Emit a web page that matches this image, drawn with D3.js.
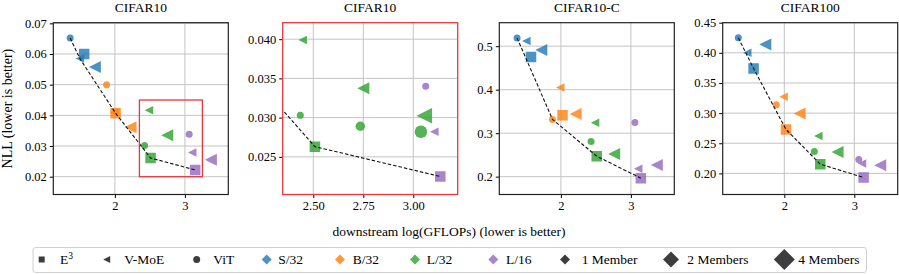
<!DOCTYPE html>
<html>
<head>
<meta charset="utf-8">
<script src="https://cdn.jsdelivr.net/npm/d3@7"></script>
<style>
  body { margin: 0; background: #fff; }
  svg { display: block; font-family: "Liberation Serif", "DejaVu Serif", serif; }
  svg text { font-family: "Liberation Serif", "DejaVu Serif", serif; }
</style>
</head>
<body>
<div id="chart"></div>
<script>
// model sizes and their colours (tab10)
const modelSizes = ["S/32", "B/32", "L/32", "L/16"];
const sizeColors = ["#1f77b4", "#ff7f0e", "#2ca02c", "#9467bd"];
const methods = ["E3", "V-MoE", "ViT"];
const memberCounts = [1, 2, 4];

// points: [model size, method, members, log(GFLOPs), NLL]
const cifar10Points = [
  ["S/32", "ViT", 1, 1.361, 0.0652],
  ["S/32", "E3", 2, 1.561, 0.0600],
  ["S/32", "V-MoE", 1, 1.500, 0.0585],
  ["S/32", "V-MoE", 2, 1.714, 0.0558],
  ["B/32", "ViT", 1, 1.881, 0.0500],
  ["B/32", "V-MoE", 1, 1.990, 0.0409],
  ["B/32", "E3", 2, 2.010, 0.0407],
  ["B/32", "V-MoE", 2, 2.224, 0.0361],
  ["L/32", "ViT", 1, 2.424, 0.0302],
  ["L/32", "V-MoE", 1, 2.486, 0.0417],
  ["L/32", "V-MoE", 2, 2.747, 0.0335],
  ["L/32", "E3", 2, 2.510, 0.0261],
  ["L/16", "ViT", 1, 3.061, 0.0338],
  ["L/16", "V-MoE", 1, 3.104, 0.0279],
  ["L/16", "V-MoE", 2, 3.371, 0.0255],
  ["L/16", "E3", 2, 3.147, 0.0222]
];
const cifar10ZoomPoints = [
  ["B/32", "E3", 2, 2.010, 0.0407],
  ["L/32", "ViT", 1, 2.435, 0.0303],
  ["L/32", "ViT", 2, 2.735, 0.0289],
  ["L/32", "ViT", 4, 3.038, 0.0282],
  ["L/32", "V-MoE", 1, 2.447, 0.0399],
  ["L/32", "V-MoE", 2, 2.750, 0.03375],
  ["L/32", "V-MoE", 4, 3.055, 0.03025],
  ["L/32", "E3", 2, 2.508, 0.0263],
  ["L/16", "ViT", 1, 3.062, 0.0340],
  ["L/16", "V-MoE", 1, 3.105, 0.0282],
  ["L/16", "E3", 2, 3.135, 0.0225]
];
const cifar10cPoints = [
  ["S/32", "ViT", 1, 1.374, 0.519],
  ["S/32", "V-MoE", 1, 1.506, 0.512],
  ["S/32", "V-MoE", 2, 1.720, 0.491],
  ["S/32", "E3", 2, 1.573, 0.4754],
  ["B/32", "ViT", 1, 1.880, 0.3315],
  ["B/32", "V-MoE", 1, 1.990, 0.405],
  ["B/32", "V-MoE", 2, 2.210, 0.344],
  ["B/32", "E3", 2, 2.023, 0.341],
  ["L/32", "ViT", 1, 2.431, 0.281],
  ["L/32", "V-MoE", 1, 2.488, 0.324],
  ["L/32", "V-MoE", 2, 2.760, 0.252],
  ["L/32", "E3", 2, 2.512, 0.247],
  ["L/16", "ViT", 1, 3.057, 0.3246],
  ["L/16", "V-MoE", 1, 3.104, 0.218],
  ["L/16", "V-MoE", 2, 3.370, 0.227],
  ["L/16", "E3", 2, 3.142, 0.1966]
];
const cifar100Points = [
  ["S/32", "ViT", 1, 1.343, 0.425],
  ["S/32", "V-MoE", 1, 1.471, 0.400],
  ["S/32", "V-MoE", 2, 1.729, 0.414],
  ["S/32", "E3", 2, 1.561, 0.374],
  ["B/32", "ViT", 1, 1.886, 0.314],
  ["B/32", "V-MoE", 1, 1.990, 0.327],
  ["B/32", "V-MoE", 2, 2.219, 0.2995],
  ["B/32", "E3", 2, 2.024, 0.273],
  ["L/32", "ViT", 1, 2.429, 0.2364],
  ["L/32", "V-MoE", 1, 2.486, 0.262],
  ["L/32", "V-MoE", 2, 2.761, 0.2357],
  ["L/32", "E3", 2, 2.514, 0.2153],
  ["L/16", "ViT", 1, 3.064, 0.223],
  ["L/16", "V-MoE", 1, 3.110, 0.2164],
  ["L/16", "V-MoE", 2, 3.371, 0.2137],
  ["L/16", "E3", 2, 3.133, 0.1932]
];

// dashed frontier lines: [log(GFLOPs), NLL]
const cifar10Front = [[1.361, 0.0652], [1.500, 0.0585], [2.010, 0.0407], [2.510, 0.0261], [3.147, 0.0222]];
const cifar10ZoomFront = [[2.010, 0.0407], [2.508, 0.0263], [3.135, 0.0225]];
const cifar10cFront = [[1.374, 0.519], [1.880, 0.3315], [2.512, 0.247], [3.142, 0.1966]];
const cifar100Front = [[1.343, 0.425], [1.561, 0.374], [2.024, 0.273], [2.514, 0.2153], [3.133, 0.1932]];

// ticks
const xTicksMain = [2, 3];
const xTicksZoom = [2.5, 2.75, 3.0];
const yTicksCifar10 = [0.02, 0.03, 0.04, 0.05, 0.06, 0.07];
const yTicksZoom = [0.025, 0.030, 0.035, 0.040];
const yTicksCifar10c = [0.2, 0.3, 0.4, 0.5];
const yTicksCifar100 = [0.20, 0.25, 0.30, 0.35, 0.40, 0.45];

// zoom region shown in the first panel: [x0, x1, y0, y1]
const zoomBox = [2.35, 3.25, 0.020, 0.045];

const panels = [
  { title: "CIFAR10", points: cifar10Points, front: cifar10Front, xDomain: [1.12, 3.62], yDomain: [0.0142, 0.0702],
    xTicks: xTicksMain, yTicks: yTicksCifar10, xFmt: d3.format("d"), yFmt: d3.format(".2f"), left: 53.3, box: true },
  { title: "CIFAR10", points: cifar10ZoomPoints, front: cifar10ZoomFront, xDomain: [2.347, 3.222], yDomain: [0.0202, 0.0421],
    xTicks: xTicksZoom, yTicks: yTicksZoom, xFmt: d3.format(".2f"), yFmt: d3.format(".3f"), left: 282.7, red: true },
  { title: "CIFAR10-C", points: cifar10cPoints, front: cifar10cFront, xDomain: [1.12, 3.62], yDomain: [0.159, 0.554],
    xTicks: xTicksMain, yTicks: yTicksCifar10c, xFmt: d3.format("d"), yFmt: d3.format(".1f"), left: 499.3 },
  { title: "CIFAR100", points: cifar100Points, front: cifar100Front, xDomain: [1.12, 3.62], yDomain: [0.165, 0.45],
    xTicks: xTicksMain, yTicks: yTicksCifar100, xFmt: d3.format("d"), yFmt: d3.format(".2f"), left: 722.7 }
];

const W = 899, H = 274;
const plotW = 175, plotTop = 22.7, plotBottom = 194.5;
const color = d3.scaleOrdinal().domain(modelSizes).range(sizeColors);

// marker widths in px, by method and ensemble size
const markerSize = {
  "ViT": { 1: 7, 2: 9.5, 4: 12.5 },
  "V-MoE": { 1: 8.5, 2: 12, 4: 15.5 },
  "E3": { 1: 8, 2: 10.5, 4: 13 }
};

function markerPath(method, d) {
  const r = d / 2;
  if (method === "E3") return `M${-r},${-r}H${r}V${r}H${-r}Z`;
  if (method === "V-MoE") return `M${-r},0L${r},${-r}L${r},${r}Z`;
  if (method === "ViT") return `M${r},0A${r},${r} 0 1,1 ${-r},0A${r},${r} 0 1,1 ${r},0Z`;
  return `M0,${-r}L${r},0L0,${r}L${-r},0Z`; // diamond
}

const svg = d3.select("#chart").append("svg")
  .attr("width", W)
  .attr("height", H);

panels.forEach((p, i) => {
  const x = d3.scaleLinear().domain(p.xDomain).range([p.left, p.left + plotW]);
  const y = d3.scaleLinear().domain(p.yDomain).range([plotBottom, plotTop]);
  const g = svg.append("g");

  const clipId = "clip" + i;
  g.append("clipPath").attr("id", clipId)
    .append("rect")
    .attr("x", p.left).attr("y", plotTop)
    .attr("width", plotW).attr("height", plotBottom - plotTop);

  // grid
  g.append("g")
    .selectAll("line")
    .data(p.xTicks)
    .enter().append("line")
    .attr("x1", d => x(d)).attr("x2", d => x(d))
    .attr("y1", plotTop).attr("y2", plotBottom)
    .attr("stroke", "#c4c4c4").attr("stroke-width", 1);
  g.append("g")
    .selectAll("line")
    .data(p.yTicks)
    .enter().append("line")
    .attr("x1", p.left).attr("x2", p.left + plotW)
    .attr("y1", d => y(d)).attr("y2", d => y(d))
    .attr("stroke", "#c4c4c4").attr("stroke-width", 1);

  // scatter points
  const marks = g.append("g").attr("clip-path", `url(#${clipId})`);
  marks.selectAll("path")
    .data(p.points)
    .enter().append("path")
    .attr("d", d => markerPath(d[1], markerSize[d[1]][d[2]]))
    .attr("transform", d => `translate(${x(d[3])},${y(d[4])})`)
    .attr("fill", d => color(d[0]))
    .attr("fill-opacity", 0.8);

  // dashed frontier
  marks.append("path")
    .datum(p.front)
    .attr("d", d3.line().x(d => x(d[0])).y(d => y(d[1])))
    .attr("fill", "none")
    .attr("stroke", "#111")
    .attr("stroke-width", 1.1)
    .attr("stroke-dasharray", "3.5,2");

  // zoom rectangle
  if (p.box) {
    g.append("rect")
      .attr("x", x(zoomBox[0])).attr("y", y(zoomBox[3]))
      .attr("width", x(zoomBox[1]) - x(zoomBox[0]))
      .attr("height", y(zoomBox[2]) - y(zoomBox[3]))
      .attr("fill", "none")
      .attr("stroke", "#e8383b")
      .attr("stroke-width", 1.3);
  }

  // axes
  const xAxis = g.append("g")
    .attr("transform", `translate(0,${plotBottom})`)
    .call(d3.axisBottom(x).tickValues(p.xTicks).tickFormat(p.xFmt).tickSize(3.5).tickPadding(3));
  const yAxis = g.append("g")
    .attr("transform", `translate(${p.left},0)`)
    .call(d3.axisLeft(y).tickValues(p.yTicks).tickFormat(p.yFmt).tickSize(3.5).tickPadding(3));
  [xAxis, yAxis].forEach(a => {
    a.attr("font-family", "Liberation Serif").attr("font-size", 12.5);
    a.select(".domain").remove();
    a.selectAll(".tick line").attr("stroke", "#000").attr("stroke-width", 1);
    a.selectAll(".tick text").attr("fill", "#000");
  });

  // frame
  g.append("rect")
    .attr("x", p.left).attr("y", plotTop)
    .attr("width", plotW).attr("height", plotBottom - plotTop)
    .attr("fill", "none")
    .attr("stroke", p.red ? "#e8383b" : "#222")
    .attr("stroke-width", p.red ? 1.3 : 1.2);

  // title
  g.append("text")
    .attr("x", p.left + plotW / 2)
    .attr("y", 12)
    .attr("text-anchor", "middle")
    .style("font-size", "13.5px")
    .text(p.title);
});

// axis labels
svg.append("text")
  .attr("x", 449)
  .attr("y", 236)
  .attr("text-anchor", "middle")
  .style("font-size", "13.5px")
  .text("downstream log(GFLOPs) (lower is better)");

svg.append("text")
  .attr("transform", `translate(12,${(plotTop + plotBottom) / 2}) rotate(-90)`)
  .attr("text-anchor", "middle")
  .style("font-size", "14px")
  .text("NLL (lower is better)");

// legend
const legendItems = [
  { label: "E3", shape: "E3", d: 6, fill: "#333", mx: 41.7, tx: 60 },
  { label: "V-MoE", shape: "V-MoE", d: 7, fill: "#333", mx: 106.7, tx: 124.3 },
  { label: "ViT", shape: "ViT", d: 7, fill: "#333", mx: 196.7, tx: 213.3 },
  { label: "S/32", shape: "D", d: 10, fill: color("S/32"), mx: 266.7, tx: 278.3 },
  { label: "B/32", shape: "D", d: 10, fill: color("B/32"), mx: 340, tx: 352.7 },
  { label: "L/32", shape: "D", d: 10, fill: color("L/32"), mx: 415, tx: 426.7 },
  { label: "L/16", shape: "D", d: 10, fill: color("L/16"), mx: 493.3, tx: 506 },
  { label: "1 Member", shape: "D", d: 10, fill: "#333", mx: 565, tx: 581.7 },
  { label: "2 Members", shape: "D", d: 16, fill: "#333", mx: 671, tx: 687.3 },
  { label: "4 Members", shape: "D", d: 21, fill: "#333", mx: 784.3, tx: 798.3 }
];
const legendY = 259.5;

svg.append("rect")
  .attr("x", 33).attr("y", 247.5)
  .attr("width", 833.5).attr("height", 25)
  .attr("rx", 2.5)
  .attr("fill", "#fff")
  .attr("stroke", "#d0d0d0")
  .attr("stroke-width", 1);

const legend = svg.append("g");
legend.selectAll("path")
  .data(legendItems)
  .enter().append("path")
  .attr("d", d => markerPath(d.shape, d.d))
  .attr("transform", d => `translate(${d.mx},${legendY})`)
  .attr("fill", d => d.fill)
  .attr("fill-opacity", d => d.fill === "#333" ? 0.95 : 0.8);

legend.selectAll("text")
  .data(legendItems)
  .enter().append("text")
  .attr("x", d => d.tx)
  .attr("y", legendY + 4.5)
  .style("font-size", "13.5px")
  .each(function(d) {
    const t = d3.select(this);
    if (d.label === "E3") {
      t.append("tspan").text("E");
      t.append("tspan").attr("dy", -5).style("font-size", "9.5px").text("3");
    } else {
      t.text(d.label);
    }
  });
</script>
</body>
</html>
